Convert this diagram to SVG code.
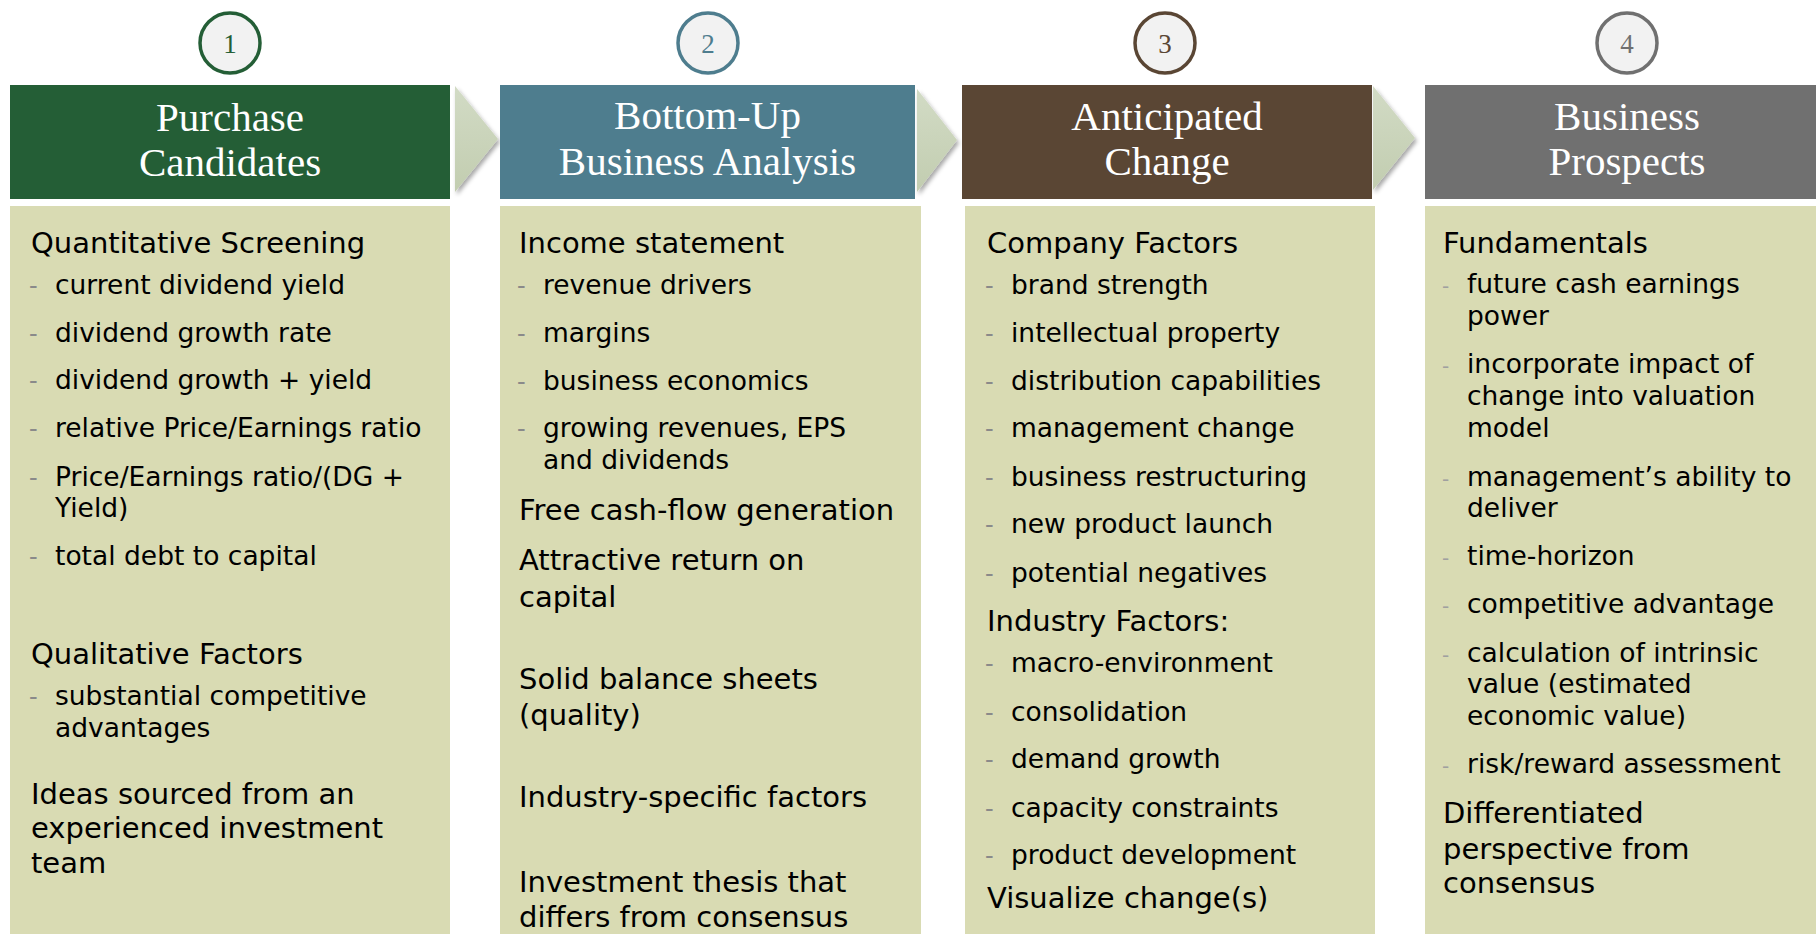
<svg xmlns="http://www.w3.org/2000/svg" width="1816" height="934" viewBox="0 0 1816 934">
<defs>
<style>
.hdr{font-family:"Liberation Serif","Times New Roman",serif;font-size:41px;fill:#ffffff;text-anchor:middle}
.num{font-family:"Liberation Serif","Times New Roman",serif;font-size:27px;text-anchor:middle}
.body{fill:#d9dbb3}
.h{font-family:"DejaVu Sans",Verdana,sans-serif;font-size:29px;fill:#000}
.i{font-family:"DejaVu Sans",Verdana,sans-serif;font-size:26.5px;fill:#000}
.d{font-family:"DejaVu Sans",Verdana,sans-serif;font-size:24px;fill:#8a8a8a}
.circ{fill:#f2f2f2;stroke-width:3.5}
.chev{fill:url(#chevg);filter:url(#sh)}
</style>
<linearGradient id="chevg" x1="0" y1="0" x2="0" y2="1">
<stop offset="0" stop-color="#d2dbc5"/>
<stop offset="1" stop-color="#c2cdb0"/>
</linearGradient>
<filter id="sh" x="-50%" y="-20%" width="200%" height="150%">
<feDropShadow dx="2" dy="3" stdDeviation="2" flood-color="#000" flood-opacity="0.35"/>
</filter>
</defs>
<rect width="1816" height="934" fill="#ffffff"/>

<g id="connectors">
<polygon class="chev" points="455,86 498,139 455,192"/>
<polygon class="chev" points="917,89 957,140 917,192"/>
<polygon class="chev" points="1373,86 1415,138 1373,190"/>
</g>

<g id="step1">
<circle class="circ" cx="230" cy="43" r="30" stroke="#245e36"/>
<text class="num" x="230" y="53" fill="#245e36">1</text>
<rect x="10" y="85" width="440" height="114" fill="#245e36"/>
<text class="hdr" x="230" y="131">Purchase</text>
<text class="hdr" x="230" y="176">Candidates</text>
<rect class="body" x="10" y="206" width="440" height="728"/>
<text class="h" x="31" y="253">Quantitative Screening</text>
<text class="d" x="29" y="294">-</text><text class="i" x="55" y="294">current dividend yield</text>
<text class="d" x="29" y="342">-</text><text class="i" x="55" y="342">dividend growth rate</text>
<text class="d" x="29" y="389">-</text><text class="i" x="55" y="389">dividend growth + yield</text>
<text class="d" x="29" y="437">-</text><text class="i" x="55" y="437">relative Price/Earnings ratio</text>
<text class="d" x="29" y="486">-</text><text class="i" x="55" y="486">Price/Earnings ratio/(DG +</text>
<text class="i" x="55" y="517">Yield)</text>
<text class="d" x="29" y="565">-</text><text class="i" x="55" y="565">total debt to capital</text>
<text class="h" x="31" y="664">Qualitative Factors</text>
<text class="d" x="29" y="705">-</text><text class="i" x="55" y="705">substantial competitive</text>
<text class="i" x="55" y="737">advantages</text>
<text class="h" x="31" y="804">Ideas sourced from an</text>
<text class="h" x="31" y="838">experienced investment</text>
<text class="h" x="31" y="873">team</text>
</g>

<g id="step2">
<circle class="circ" cx="708" cy="43" r="30" stroke="#4e7d8e"/>
<text class="num" x="708" y="53" fill="#4e7d8e">2</text>
<rect x="500" y="85" width="415" height="114" fill="#4e7d8e"/>
<text class="hdr" x="707.5" y="129">Bottom-Up</text>
<text class="hdr" x="707.5" y="175">Business Analysis</text>
<rect class="body" x="500" y="206" width="421" height="728"/>
<text class="h" x="519" y="253">Income statement</text>
<text class="d" x="517" y="294">-</text><text class="i" x="543" y="294">revenue drivers</text>
<text class="d" x="517" y="342">-</text><text class="i" x="543" y="342">margins</text>
<text class="d" x="517" y="390">-</text><text class="i" x="543" y="390">business economics</text>
<text class="d" x="517" y="437">-</text><text class="i" x="543" y="437">growing revenues, EPS</text>
<text class="i" x="543" y="469">and dividends</text>
<text class="h" x="519" y="520">Free cash-flow generation</text>
<text class="h" x="519" y="570">Attractive return on</text>
<text class="h" x="519" y="607">capital</text>
<text class="h" x="519" y="689">Solid balance sheets</text>
<text class="h" x="519" y="725">(quality)</text>
<text class="h" x="519" y="807">Industry-specific factors</text>
<text class="h" x="519" y="892">Investment thesis that</text>
<text class="h" x="519" y="927">differs from consensus</text>
</g>

<g id="step3">
<circle class="circ" cx="1165" cy="43" r="30" stroke="#5a4634"/>
<text class="num" x="1165" y="53" fill="#5a4634">3</text>
<rect x="962" y="85" width="410" height="114" fill="#5a4634"/>
<text class="hdr" x="1167" y="130">Anticipated</text>
<text class="hdr" x="1167" y="175">Change</text>
<rect class="body" x="965" y="206" width="410" height="728"/>
<text class="h" x="987" y="253">Company Factors</text>
<text class="d" x="985" y="294">-</text><text class="i" x="1011" y="294">brand strength</text>
<text class="d" x="985" y="342">-</text><text class="i" x="1011" y="342">intellectual property</text>
<text class="d" x="985" y="390">-</text><text class="i" x="1011" y="390">distribution capabilities</text>
<text class="d" x="985" y="437">-</text><text class="i" x="1011" y="437">management change</text>
<text class="d" x="985" y="486">-</text><text class="i" x="1011" y="486">business restructuring</text>
<text class="d" x="985" y="533">-</text><text class="i" x="1011" y="533">new product launch</text>
<text class="d" x="985" y="582">-</text><text class="i" x="1011" y="582">potential negatives</text>
<text class="h" x="987" y="631">Industry Factors:</text>
<text class="d" x="985" y="672">-</text><text class="i" x="1011" y="672">macro-environment</text>
<text class="d" x="985" y="721">-</text><text class="i" x="1011" y="721">consolidation</text>
<text class="d" x="985" y="768">-</text><text class="i" x="1011" y="768">demand growth</text>
<text class="d" x="985" y="817">-</text><text class="i" x="1011" y="817">capacity constraints</text>
<text class="d" x="985" y="864">-</text><text class="i" x="1011" y="864">product development</text>
<text class="h" x="987" y="908">Visualize change(s)</text>
</g>

<g id="step4">
<circle class="circ" cx="1627" cy="43" r="30" stroke="#707070"/>
<text class="num" x="1627" y="53" fill="#707070">4</text>
<rect x="1425" y="85" width="391" height="114" fill="#707070"/>
<text class="hdr" x="1627" y="130">Business</text>
<text class="hdr" x="1627" y="175">Prospects</text>
<rect class="body" x="1425" y="206" width="391" height="728"/>
<text class="h" x="1443" y="253">Fundamentals</text>
<text class="d" x="1442" y="293" style="font-size:20px;fill:#a0a0a0">-</text><text class="i" x="1467" y="293">future cash earnings</text>
<text class="i" x="1467" y="325">power</text>
<text class="d" x="1442" y="373" style="font-size:20px;fill:#a0a0a0">-</text><text class="i" x="1467" y="373">incorporate impact of</text>
<text class="i" x="1467" y="405">change into valuation</text>
<text class="i" x="1467" y="437">model</text>
<text class="d" x="1442" y="486" style="font-size:20px;fill:#a0a0a0">-</text><text class="i" x="1467" y="486">management’s ability to</text>
<text class="i" x="1467" y="517">deliver</text>
<text class="d" x="1442" y="565" style="font-size:20px;fill:#a0a0a0">-</text><text class="i" x="1467" y="565">time-horizon</text>
<text class="d" x="1442" y="613" style="font-size:20px;fill:#a0a0a0">-</text><text class="i" x="1467" y="613">competitive advantage</text>
<text class="d" x="1442" y="662" style="font-size:20px;fill:#a0a0a0">-</text><text class="i" x="1467" y="662">calculation of intrinsic</text>
<text class="i" x="1467" y="693">value (estimated</text>
<text class="i" x="1467" y="725">economic value)</text>
<text class="d" x="1442" y="773" style="font-size:20px;fill:#a0a0a0">-</text><text class="i" x="1467" y="773">risk/reward assessment</text>
<text class="h" x="1443" y="823">Differentiated</text>
<text class="h" x="1443" y="859">perspective from</text>
<text class="h" x="1443" y="893">consensus</text>
</g>
</svg>
